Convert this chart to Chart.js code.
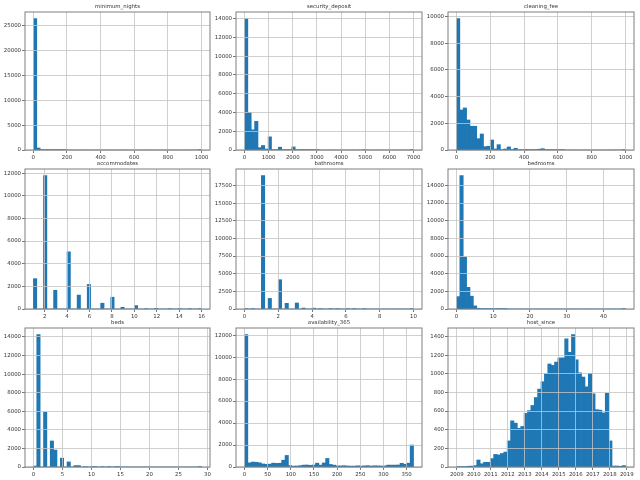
<!DOCTYPE html>
<html><head><meta charset="utf-8">
<script src="https://cdn.jsdelivr.net/npm/chart.js@4"></script>
<style>html,body{margin:0;padding:0;background:#fff;width:640px;height:480px;overflow:hidden}canvas{position:absolute}</style>
</head><body>
<script>
const panelNames = ["minimum_nights","security_deposit","cleaning_fee","accommodates","bathrooms","bedrooms","beds","availability_365","host_since"];
const minimumNights = [26400,400,60,10,5,3,2,1,1,1,0,0,0,0,0,0,0,0,0,0,0,0,0,0,0,0,0,0,0,0,0,0,0,0,0,0,0,0,0,0,0,0,0,0,0,0,0,0,0,2];
const securityDeposit = [14000,4000,2150,3050,250,480,100,1400,50,10,300,10,5,5,330,5,5,60,2,2,2,60,0,0,0,0,0,0,0,0,0,0,0,0,0,40,0,0,0,0,0,0,0,0,0,0,0,0,0,2];
const cleaningFee = [9850,3000,3150,2250,1780,1780,850,1200,250,280,750,80,400,30,80,230,40,130,30,30,50,10,15,10,60,100,2,2,1,1,1,1,0,0,0,0,0,0,0,0,0,0,0,0,0,0,0,0,0,2];
const accommodates = [2680,0,0,11780,0,0,1650,0,0,0,5050,0,0,1230,0,0,2170,0,0,0,510,0,0,1040,0,0,150,0,0,0,300,0,0,40,0,0,60,0,0,0,10,0,0,15,0,0,5,0,0,20];
const bathrooms = [60,0,60,0,0,18900,0,1500,0,0,4150,0,800,0,0,850,0,130,0,0,120,0,30,0,0,30,0,10,0,0,10,0,2,0,0,1,0,0,0,0,0,0,0,0,0,0,0,0,0,1];
const bedrooms = [1400,15100,5900,2450,1450,350,80,20,10,5,3,2,1,1,1,0,0,0,0,0,0,0,0,0,0,0,0,0,0,0,0,0,0,0,0,0,0,0,0,0,0,0,0,0,0,0,0,0,0,1];
const beds = [100,14250,0,5900,0,2800,1820,0,950,0,550,0,150,150,0,50,0,50,10,0,5,0,2,0,1,1,0,0,0,0,0,0,0,0,0,0,0,0,0,0,0,0,0,0,0,0,0,0,0,1];
const availability365 = [12050,380,450,430,380,280,240,260,350,330,340,620,1050,130,80,90,120,170,180,150,180,350,170,370,780,230,170,100,100,120,90,80,80,110,80,100,120,90,110,100,90,100,170,170,170,180,340,250,350,2000];
const hostSince = [5,5,5,8,10,15,75,35,50,50,90,135,130,145,160,280,495,470,415,435,575,605,660,745,835,915,1000,1105,1090,1125,1170,1170,1375,1230,1420,1150,1010,965,860,1005,785,615,610,580,790,280,10,10,8,15];
const seriesList = [minimumNights,securityDeposit,cleaningFee,accommodates,bathrooms,bedrooms,beds,availability365,hostSince];
const binLow = [1,0,0,1,0,0,0,0,2008.98];
const binHigh = [1000,7000,1000,16,10,46,29,365,2018.93];
const xSteps = [200,1000,200,2,2,10,5,50,1];
const ySteps = [5000,2000,2000,2000,2500,2000,2000,2000,200];

const plotLefts = [25,236,448], plotRights = [210,422,634];
const plotTops = [12,169,328], plotBottoms = [150,309,467];
const yW = 24, xH = 14, titleH = 8, rightPad = 6;
const tickColor = '#333333', gridColor = '#c4c4c4', spineColor = '#7f7f7f';
const fontSize = 5.4;

const frame = {id:'frame',afterDraw(c){const a=c.chartArea,x=c.ctx;x.save();x.strokeStyle=spineColor;x.lineWidth=1;
  x.strokeRect(a.left,a.top,a.right-a.left,a.bottom-a.top);x.restore();}};
const stepTicks = step => s => {
  const t=[];
  for(let n=Math.ceil(s.min/step);n*step<=s.max;n++) t.push({value:n*step});
  s.ticks=t;
};

panelNames.forEach((name,i)=>{
  const col=i%3,row=Math.floor(i/3);
  const pw=plotRights[col]-plotLefts[col], ph=plotBottoms[row]-plotTops[row];
  const cv=document.createElement('canvas');
  cv.width=pw+yW+rightPad; cv.height=ph+titleH+xH;
  cv.style.left=(plotLefts[col]-yW)+'px'; cv.style.top=(plotTops[row]-titleH)+'px';
  cv.style.width=cv.width+'px'; cv.style.height=cv.height+'px';
  document.body.appendChild(cv);
  const vals=seriesList[i], lo=binLow[i], hi=binHigh[i], w=(hi-lo)/vals.length, m=(hi-lo)*0.05;
  const pts=vals.map((v,k)=>({x:lo+(k+0.5)*w,y:v}));
  const fmt=v=>String(Math.round(v*100)/100);
  new Chart(cv,{type:'bar',plugins:[frame],
    data:{datasets:[{label:name,data:pts,backgroundColor:'#1f77b4',borderWidth:0,barPercentage:1,categoryPercentage:1}]},
    options:{responsive:false,animation:false,devicePixelRatio:1,
      layout:{padding:{left:0,right:rightPad,top:0,bottom:0}},
      plugins:{legend:{display:false},tooltip:{enabled:false},
        title:{display:true,fullSize:false,text:name,color:'#333333',font:{family:'DejaVu Sans',size:fontSize,weight:'normal',lineHeight:'6px'},padding:{top:0,bottom:2}}},
      scales:{
        x:{type:'linear',offset:false,min:lo-m,max:hi+m,
          afterBuildTicks:stepTicks(xSteps[i]),
          afterFit(s){s.height=xH;},
          grid:{offset:false,z:1,color:gridColor,lineWidth:0.8,tickLength:3,tickColor:'#555'},
          border:{display:false},
          ticks:{autoSkip:false,maxRotation:0,padding:1,color:tickColor,font:{family:'DejaVu Sans',size:fontSize},callback:fmt}},
        y:{type:'linear',min:0,max:Math.max(...vals)*1.05,
          afterBuildTicks:stepTicks(ySteps[i]),
          afterFit(s){s.width=yW;},
          grid:{z:1,color:gridColor,lineWidth:0.8,tickLength:3,tickColor:'#555'},
          border:{display:false},
          ticks:{autoSkip:false,padding:1,color:tickColor,font:{family:'DejaVu Sans',size:fontSize},callback:fmt}}
      }}});
});
</script>
</body></html>
